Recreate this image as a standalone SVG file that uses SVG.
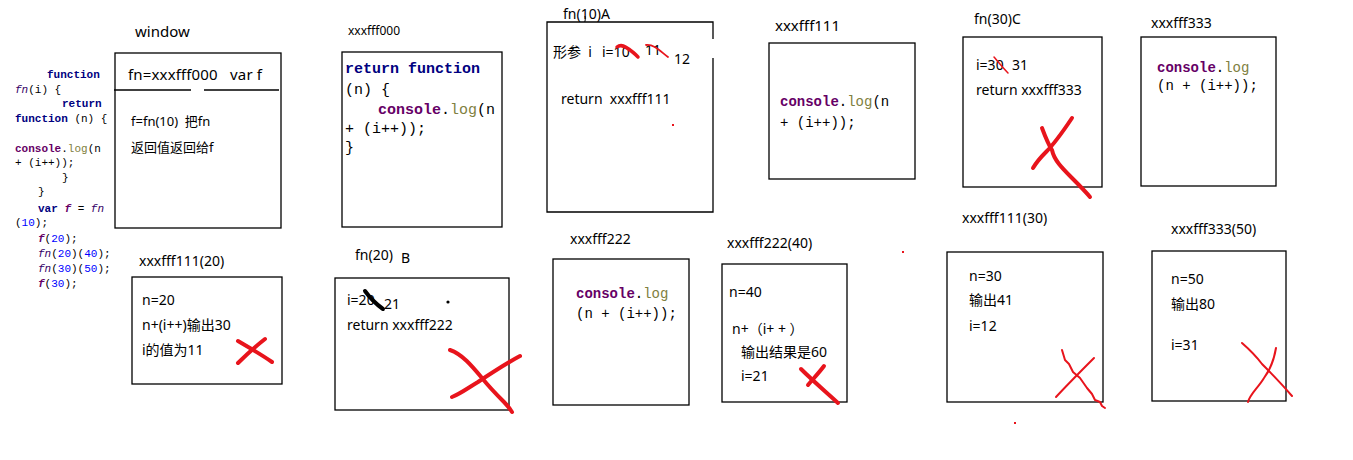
<svg xmlns="http://www.w3.org/2000/svg" width="1353" height="460" viewBox="0 0 1353 460">
<style>
text{font-family:"Noto Sans","Noto Sans CJK SC",sans-serif;fill:#000;white-space:pre}
.code text{font-family:"Liberation Mono","DejaVu Sans Mono",monospace}
.lb{font-size:14px}
.t{font-size:14px}
.kw{font-weight:bold;fill:#000080}
.con{font-weight:bold;fill:#660066}
.log{fill:#808040}
.num{fill:#0000ff}
.fn{font-style:italic;fill:#330066}
.fv{font-style:italic;font-weight:bold;fill:#660066}
.box{fill:#fff;stroke:#000;stroke-width:1.3}
.red{fill:none;stroke:#e8141c;stroke-linecap:round;stroke-linejoin:round}
</style>
<rect width="1353" height="460" fill="#fff"/>

<g id="source-code" class="code" font-size="11">
<text x="47" y="78"><tspan class="kw">function</tspan></text>
<text x="15" y="93"><tspan class="fn">fn</tspan>(i) {</text>
<text x="62" y="107"><tspan class="kw">return</tspan></text>
<text x="15" y="122"><tspan class="kw">function</tspan> (n) {</text>
<text x="15" y="152"><tspan class="con">console</tspan>.<tspan class="log">log</tspan>(n</text>
<text x="15" y="166">+ (i++));</text>
<text x="62" y="181">}</text>
<text x="38" y="195">}</text>
<text x="38" y="212"><tspan class="kw">var</tspan> <tspan class="fv">f</tspan> = <tspan class="fn">fn</tspan></text>
<text x="15" y="226">(<tspan class="num">10</tspan>);</text>
<text x="38" y="242"><tspan class="fv">f</tspan>(<tspan class="num">20</tspan>);</text>
<text x="38" y="257"><tspan class="fn">fn</tspan>(<tspan class="num">20</tspan>)(<tspan class="num">40</tspan>);</text>
<text x="38" y="272"><tspan class="fn">fn</tspan>(<tspan class="num">30</tspan>)(<tspan class="num">50</tspan>);</text>
<text x="38" y="287"><tspan class="fv">f</tspan>(<tspan class="num">30</tspan>);</text>
</g>

<g id="window">
<text x="135" y="37" font-size="15">window</text>
<rect class="box" x="115" y="53" width="166" height="175"/>
<text x="128" y="80" font-size="15" textLength="134">fn=xxxfff000   var f</text>
<line x1="114" y1="90" x2="191" y2="90" stroke="#000" stroke-width="1.3"/>
<line x1="204" y1="90" x2="279" y2="90" stroke="#000" stroke-width="1.3"/>
<text x="131" y="126" font-size="13">f=fn(10)  把fn</text>
<text x="131" y="152" font-size="13">返回值返回给f</text>
</g>

<g id="xxxfff000">
<text x="348" y="35" font-size="12">xxxfff000</text>
<rect class="box" x="342" y="52" width="160" height="175"/>
<g class="code" font-size="15">
<text x="345" y="73"><tspan class="kw">return function</tspan></text>
<text x="345" y="94">(n) {</text>
<text x="378" y="114"><tspan class="con">console</tspan>.<tspan class="log">log</tspan>(n</text>
<text x="345" y="133">+ (i++));</text>
<text x="345" y="152">}</text>
</g>
</g>

<g id="fn10A">
<text class="lb" x="563" y="19">fn(10)A</text>
<path d="M585,16 C586,22 584,25 580,23" fill="none" stroke="#000" stroke-width="1"/>
<rect x="547" y="22" width="166" height="190" fill="#fff"/>
<path d="M713,39 V22 H547 V212 H713 V58" fill="none" stroke="#000" stroke-width="1.3"/>
<text class="t" x="553" y="57">形参  i</text>
<text class="t" x="602" y="57">i=10</text>
<text class="t" x="645" y="55">11</text>
<text class="t" x="674" y="64">12</text>
<path class="red" d="M617,47 C622,43 627,48 630,50 C633,52 636,55 638,57" stroke-width="3.5"/>
<path class="red" d="M646,45 C654,44 660,51 668,57" stroke-width="1.8"/>
<text class="t" x="561" y="104">return  xxxfff111</text>
<rect x="672" y="124" width="2" height="2" fill="#e8141c"/>
</g>

<g id="xxxfff111">
<text x="775" y="31" font-size="15">xxxfff111</text>
<rect class="box" x="769" y="43" width="146" height="136"/>
<g class="code" font-size="14">
<text x="780" y="106"><tspan class="con">console</tspan>.<tspan class="log">log</tspan>(n</text>
<text x="780" y="127">+ (i++));</text>
</g>
</g>

<g id="fn30C">
<text class="lb" x="974" y="24">fn(30)C</text>
<rect class="box" x="963" y="37" width="139" height="150"/>
<text class="t" x="976" y="70">i=30</text>
<text class="t" x="1012" y="70">31</text>
<path class="red" d="M994,57 C999,63 1003,68 1008,73" stroke-width="1.5"/>
<text class="t" x="976" y="95">return xxxfff333</text>
<path class="red" d="M1042,128 C1045,136 1048,144 1052,150 C1054,160 1062,168 1072,178 C1080,186 1086,192 1090,197" stroke-width="4"/>
<path class="red" d="M1072,118 C1064,130 1054,144 1046,152 C1040,158 1036,163 1033,168" stroke-width="4"/>
</g>

<g id="xxxfff333">
<text class="lb" x="1151" y="28">xxxfff333</text>
<rect class="box" x="1141" y="37" width="135" height="149"/>
<g class="code" font-size="14">
<text x="1157" y="72"><tspan class="con">console</tspan>.<tspan class="log">log</tspan></text>
<text x="1157" y="90">(n + (i++));</text>
</g>
</g>

<g id="xxxfff111-20">
<text class="lb" x="139" y="266">xxxfff111(20)</text>
<rect class="box" x="132" y="277" width="150" height="107"/>
<text class="t" x="142" y="305">n=20</text>
<text class="t" x="142" y="330">n+(i++)输出30</text>
<text class="t" x="142" y="355">i的值为11</text>
<path class="red" d="M238,341 C250,348 262,355 272,362" stroke-width="4"/>
<path class="red" d="M265,339 C256,346 246,355 238,363" stroke-width="4"/>
</g>

<g id="fn20B">
<text class="lb" x="355" y="260">fn(20)</text>
<text class="lb" x="401" y="263">B</text>
<rect class="box" x="335" y="278" width="174" height="132"/>
<text class="t" x="347" y="305">i=20</text>
<text class="t" x="384" y="309">21</text>
<path d="M365,291 C370,298 376,304 383,309" fill="none" stroke="#000" stroke-width="4" stroke-linecap="round"/>
<circle cx="448" cy="302" r="1.6" fill="#000"/>
<text class="t" x="347" y="330">return xxxfff222</text>
<path class="red" d="M450,350 C462,354 472,366 482,378 C490,388 498,396 504,402 C508,406 510,409 512,412" stroke-width="4"/>
<path class="red" d="M520,356 C505,364 490,374 478,382 C468,388 460,394 452,397" stroke-width="4"/>
</g>

<g id="xxxfff222">
<text class="lb" x="570" y="244">xxxfff222</text>
<rect class="box" x="553" y="259" width="136" height="146"/>
<g class="code" font-size="14">
<text x="576" y="298"><tspan class="con">console</tspan>.<tspan class="log">log</tspan></text>
<text x="576" y="318">(n + (i++));</text>
</g>
</g>

<g id="xxxfff222-40">
<text class="lb" x="727" y="248">xxxfff222(40)</text>
<rect class="box" x="722" y="264" width="125" height="138"/>
<text class="t" x="729" y="297">n=40</text>
<text class="t" x="732" y="334">n+（i+ + ）</text>
<text class="t" x="741" y="357">输出结果是60</text>
<text class="t" x="741" y="381">i=21</text>
<path class="red" d="M801,369 C812,380 826,392 838,403" stroke-width="4"/>
<path class="red" d="M824,366 C818,374 812,380 808,385" stroke-width="4"/>
<rect x="902" y="251" width="2" height="2" fill="#e8141c"/>
</g>

<g id="xxxfff111-30">
<text class="lb" x="962" y="223">xxxfff111(30)</text>
<rect class="box" x="947" y="252" width="156" height="150"/>
<text class="t" x="969" y="281">n=30</text>
<text class="t" x="969" y="305">输出41</text>
<text class="t" x="969" y="331">i=12</text>
<path class="red" d="M1062,350 L1065,360 L1069,364 L1073,372 L1080,378 L1087,388 L1092,394 L1095,400 L1100,402 L1102,406 L1105,408" stroke-width="2"/>
<path class="red" d="M1094,358 C1082,370 1068,384 1056,397" stroke-width="2"/>
<rect x="1014" y="422" width="2" height="2" fill="#e8141c"/>
</g>

<g id="xxxfff333-50">
<text class="lb" x="1171" y="234">xxxfff333(50)</text>
<rect class="box" x="1152" y="251" width="134" height="150"/>
<text class="t" x="1171" y="284">n=50</text>
<text class="t" x="1171" y="309">输出80</text>
<text class="t" x="1171" y="350">i=31</text>
<path class="red" d="M1242,343 C1250,350 1256,356 1262,364 C1270,372 1280,382 1292,396" stroke-width="2"/>
<path class="red" d="M1276,348 C1274,360 1270,370 1264,378 C1258,388 1250,394 1248,402" stroke-width="2"/>
</g>

<g id="connectors"></g>
</svg>
